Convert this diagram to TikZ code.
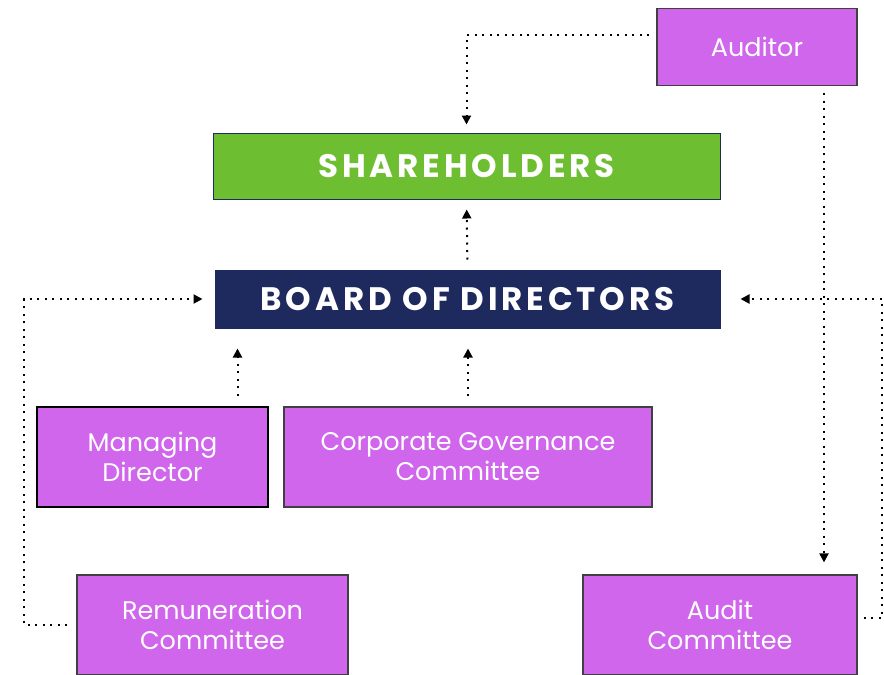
\documentclass[tikz,border=0pt]{standalone}
\usepackage{fontspec}
\setmainfont{Poppins}
\usetikzlibrary{arrows.meta}
\definecolor{rolepurple}{HTML}{CF66EC}
\definecolor{ownergreen}{HTML}{6EBE32}
\definecolor{boardnavy}{HTML}{1E2A5E}

\begin{document}
\begin{tikzpicture}[x=1pt,y=-1pt,>={Triangle[length=9pt,width=9pt]},
  flow/.style={->,line width=2pt,dash pattern=on 2pt off 5.5pt},
  role/.style={draw=black!75,line width=1.2pt,fill=rolepurple,text=white,inner sep=0pt,
    align=center,font=\fontsize{25.5}{30}\selectfont},
  head/.style={draw=boardnavy,line width=1pt,text=white,inner sep=0pt,
    font=\fontsize{32.5}{38}\selectfont\bfseries\addfontfeature{LetterSpace=12}}]
  \useasboundingbox (0,0) rectangle (884,675);

  \node[role,minimum width=200pt,minimum height=77pt] (aud) at (757,47) {Auditor};
  \node[head,fill=ownergreen,minimum width=507pt,minimum height=66pt] (sh) at (466.5,166) {SHAREHOLDERS};
  \node[head,fill=boardnavy,minimum width=505pt,minimum height=58pt] (bod) at (467.5,299) {BOARD OF DIRECTORS};
  \node[role,line width=2.5pt,draw=black,minimum width=231pt,minimum height=100pt] (md) at (152.5,457) {Managing\\Director};
  \node[role,minimum width=368pt,minimum height=100pt] (cgc) at (468,457) {Corporate Governance\\Committee};
  \node[role,minimum width=271pt,minimum height=100pt] (rem) at (212.5,625) {Remuneration\\Committee};
  \node[role,minimum width=274pt,minimum height=100pt] (ac) at (720,625) {Audit\\Committee};

  \coordinate (lbend) at (24,299);
  \coordinate (rbend) at (882,299);

  \draw[flow,shorten <=7pt,shorten >=8pt] ([yshift=12pt]aud.west) -| (sh.north);
  \draw[flow,shorten <=10pt,shorten >=10pt] (bod.north) -- (sh.south);
  \draw[flow,shorten <=10pt,shorten >=20pt] ([xshift=85pt]md.north) -- ([xshift=85pt]md.north |- bod.south);
  \draw[flow,shorten <=10pt,shorten >=20pt] (cgc.north) -- (cgc.north |- bod.south);
  \draw[flow,shorten <=9pt,shorten >=12pt] (rem.west) -| (lbend) -- (bod.west);
  \draw[flow,shorten <=6pt,shorten >=20pt] ([yshift=7pt]ac.east) -| (rbend) -- (bod.east);
  \draw[flow,shorten <=7pt,shorten >=12pt] ([xshift=67pt]aud.south) -- ([xshift=67pt]aud.south |- ac.north);
\end{tikzpicture}
\end{document}
